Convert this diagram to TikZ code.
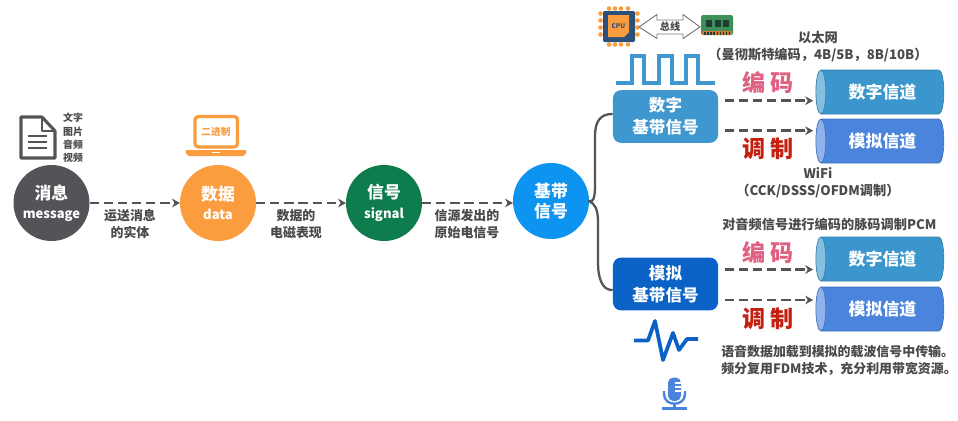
\documentclass[tikz,border=0pt]{standalone}
\usepackage{fontspec}
\setmainfont{Noto Sans CJK SC}
\usetikzlibrary{arrows.meta,shapes.geometric,shapes.arrows}
\definecolor{ink}{HTML}{4A4A4A}
\definecolor{gray1}{HTML}{545358}
\definecolor{oran}{HTML}{FB9C3F}
\definecolor{green1}{HTML}{0E7C4C}
\definecolor{sky}{HTML}{0C94F0}
\definecolor{digi}{HTML}{3E97CE}
\definecolor{anal}{HTML}{0A62C6}
\definecolor{cyla}{HTML}{3A96CC}
\definecolor{cylb}{HTML}{4A84DC}
\definecolor{pinkc}{HTML}{DF6080}
\definecolor{redc}{HTML}{C4200F}
\definecolor{cpub}{HTML}{2B5079}
\definecolor{ramg}{HTML}{3F8F5B}
\definecolor{ramd}{HTML}{1F3F35}
\tikzset{
 circ/.style={circle,fill=#1,minimum size=57pt,inner sep=0pt,outer sep=0pt,text=white,font=\bfseries\fontsize{12.6}{15.5}\selectfont,align=center},
 flow/.style={draw=gray1,line width=1.9pt,dash pattern=on 7pt off 3.6pt,-{Stealth[length=6pt,width=6.5pt]}},
 sbox/.style={rectangle,rounded corners=6pt,fill=#1,minimum width=78.8pt,minimum height=39.5pt,inner sep=0pt,outer sep=0pt,text=white,font=\bfseries\fontsize{12.4}{16.5}\selectfont,align=center},
 cyl/.style={cylinder,shape border rotate=180,aspect=0.6,draw=#1!85!black,line width=.5pt,cylinder uses custom fill,cylinder body fill=#1,cylinder end fill=#1!62!white,minimum height=96pt,minimum width=33pt,inner sep=0pt,outer sep=0pt,text=white,font=\bfseries\fontsize{12.7}{14}\selectfont},
 lab/.style={text=ink,font=\bfseries\fontsize{9.7}{12.6}\selectfont,align=center,inner sep=0pt},
 note/.style={text=ink,font=\bfseries\fontsize{9.9}{13}\selectfont,align=center,inner sep=0pt},
 bigword/.style={font=\bfseries\fontsize{17.3}{18}\selectfont,text=#1,inner sep=0pt},
 bracel/.style={draw=gray1,line width=1.7pt,line cap=round},
}
\begin{document}
\begin{tikzpicture}[x=.75pt,y=-.75pt]
\useasboundingbox (0,0) rectangle (958,421);
% main circles
\node[circ=gray1] (msg) at (51.5,203) {消息\\[-1pt]{\fontsize{9.8}{13}\selectfont message}};
\node[circ=oran] (dat) at (218,203) {数据\\[-1pt]{\fontsize{9.8}{13}\selectfont data}};
\node[circ=green1] (sig) at (384,203) {信号\\[-1pt]{\fontsize{9.8}{13}\selectfont signal}};
\node[circ=sky] (bas) at (551,201) {基带\\信号};
\draw[flow] (msg) -- (dat);
\draw[flow] (dat) -- (sig);
\draw[flow] (sig.east) -- (sig.east -| bas.west);
\node[lab] (l1) at (130,224) {运送消息\\的实体};
\node[lab] (l2) at (296,224) {数据的\\电磁表现};
\node[lab] (l3) at (467,224) {信源发出的\\原始电信号};
% boxes
\node[sbox=digi] (dig) at (665.5,116.5) {数字\\基带信号};
\node[sbox=anal] (ana) at (665.5,284) {模拟\\基带信号};
\coordinate (up) at (612,114);
\coordinate (dn) at (612,290);
\draw[bracel] (bas.east) .. controls (593,203) and (595,198) .. (595,186) -- (595,136) .. controls (595,122) and (600,114) .. (up);
\draw[bracel] (bas.east) .. controls (595,204) and (598,209) .. (598,222) -- (598,262) .. controls (598,280) and (603,290) .. (dn);
% cylinders
\node[cyl=cyla] (c1) at (882.5,92) {数字信道};
\node[cyl=cylb] (c2) at (882.5,141) {模拟信道};
\node[cyl=cyla] (c3) at (882.5,259) {数字信道};
\node[cyl=cylb] (c4) at (882.5,309) {模拟信道};
\coordinate (y1) at (0,100.7);
\coordinate (y2) at (0,130.7);
\coordinate (y3) at (0,269.5);
\coordinate (y4) at (0,300);
\draw[flow,shorten <=5pt,shorten >=2pt] (dig.east |- y1) -- (c1.west |- y1);
\draw[flow,shorten <=5pt,shorten >=2pt] (dig.east |- y2) -- (c2.west |- y2);
\draw[flow,shorten <=5pt,shorten >=2pt] (ana.east |- y3) -- (c3.west |- y3);
\draw[flow,shorten <=5pt,shorten >=2pt] (ana.east |- y4) -- (c4.west |- y4);
\node[bigword=pinkc] (w1) at (768,83) {编 码};
\node[bigword=redc] (w2) at (768,149) {调 制};
\node[bigword=pinkc] (w3) at (768,253) {编 码};
\node[bigword=redc] (w4) at (768,319) {调 制};
% notes
\node[note] (n1) at (818,46.5) {以太网\\（曼彻斯特编码，4B/5B，8B/10B）};
\node[note] (n2) at (818,183) {WiFi\\（CCK/DSSS/OFDM调制）};
\node[note,anchor=west] (n3) at (722,224) {对音频信号进行编码的脉码调制PCM};
\node[note,anchor=west,align=left,font=\bfseries\fontsize{9.7}{13}\selectfont] (n4) at (721,360.5) {语音数据加载到模拟的载波信号中传输。\\频分复用FDM技术，充分利用带宽资源。};
% document icon
\draw[gray1,line width=2.3pt,line join=round] (21,117) -- (42,117) -- (55,131) -- (55,158) -- (21,158) -- cycle;
\draw[gray1,line width=2.1pt,line join=round] (42,117) -- (42,131) -- (55,131);
\foreach \yy in {136,142,148} \draw[gray1,line width=2.2pt] (28,\yy) -- (47,\yy);
\node[text=ink,font=\bfseries\fontsize{7.4}{10}\selectfont,align=center,inner sep=0pt] (ty) at (73,138) {文字\\图片\\音频\\视频};
% laptop
\draw[oran,line width=2.4pt,rounded corners=2.5pt] (195,116.5) rectangle (237.5,147);
\fill[oran,rounded corners=1.5pt] (185,150) -- (247,150) -- (245,156) -- (187,156) -- cycle;
\fill[white] (212,151.6) rectangle (220,153);
\node[text=oran,font=\bfseries\fontsize{7.3}{9}\selectfont,inner sep=0pt] (bin) at (216,132) {二进制};
% CPU
\foreach \pp in {13,20,27,34} {
 \fill[oran] (600.5,\pp+.5) circle (2.3);
 \fill[oran] (637.5,\pp+.5) circle (2.3);
}
\foreach \pp in {609,615,621,628} {
 \fill[oran] (\pp,8.5) circle (2.3);
 \fill[oran] (\pp,44.5) circle (2.3);
}
\fill[cpub,rounded corners=1pt] (603,11) rectangle (635,42);
\fill[oran] (608,15) -- (629,15) -- (629,32) -- (624,37) -- (608,37) -- cycle;
\node[text=cpub,font=\bfseries\fontsize{4.8}{6}\selectfont,inner sep=0pt] (cpu) at (618.5,26) {CPU};
% bus arrow
\draw[gray1!80,line width=.7pt,fill=white,line join=miter] (639,27) -- (657,14.5) -- (657,20) -- (683,20) -- (683,14.5) -- (700,27) -- (683,38.5) -- (683,34) -- (657,34) -- (657,38.5) -- cycle;
\node[text=ink,font=\bfseries\fontsize{7.6}{9}\selectfont,inner sep=0pt] (bus) at (670,27) {总线};
% RAM
\fill[ramg,rounded corners=1.5pt] (701,15) rectangle (733,35);
\foreach \xx in {706,714.5,723} \fill[ramd] (\xx,20) rectangle (\xx+6,27);
\fill[oran!80!black] (702,31) rectangle (732,35);
\foreach \xx in {704,707,710,713,716.5,719.5,722.5,725.5,728.5} \fill[ramd] (\xx,31.5) rectangle (\xx+1.5,35);
% square wave
\draw[digi,line width=2.4pt,line join=miter] (616,83) -- (632,83) -- (632,56) -- (644,56) -- (644,83) -- (659,83) -- (659,56) -- (672,56) -- (672,83) -- (686,83) -- (686,56) -- (698,56) -- (698,83) -- (715,83);
% audio wave
\draw[anal,line width=2.8pt,line join=round] (634,340.5) -- (648,340.5) -- (655,321) -- (663,360) -- (673,333) -- (679,350) -- (687,339) -- (698,339);
% microphone
\fill[cylb,rounded corners=4pt] (668,377.5) rectangle (681,401);
\draw[cylb,line width=1.8pt] (664,391) -- (664,394) .. controls (664,407) and (685,407) .. (685,394) -- (685,391);
\draw[cylb,line width=1.8pt] (674.5,403) -- (674.5,408.5);
\draw[cylb,line width=1.8pt] (662,408.5) -- (687,408.5);
\foreach \yy in {383,387,391} \draw[white,line width=.8pt] (675,\yy) -- (681,\yy);
\end{tikzpicture}
\end{document}
